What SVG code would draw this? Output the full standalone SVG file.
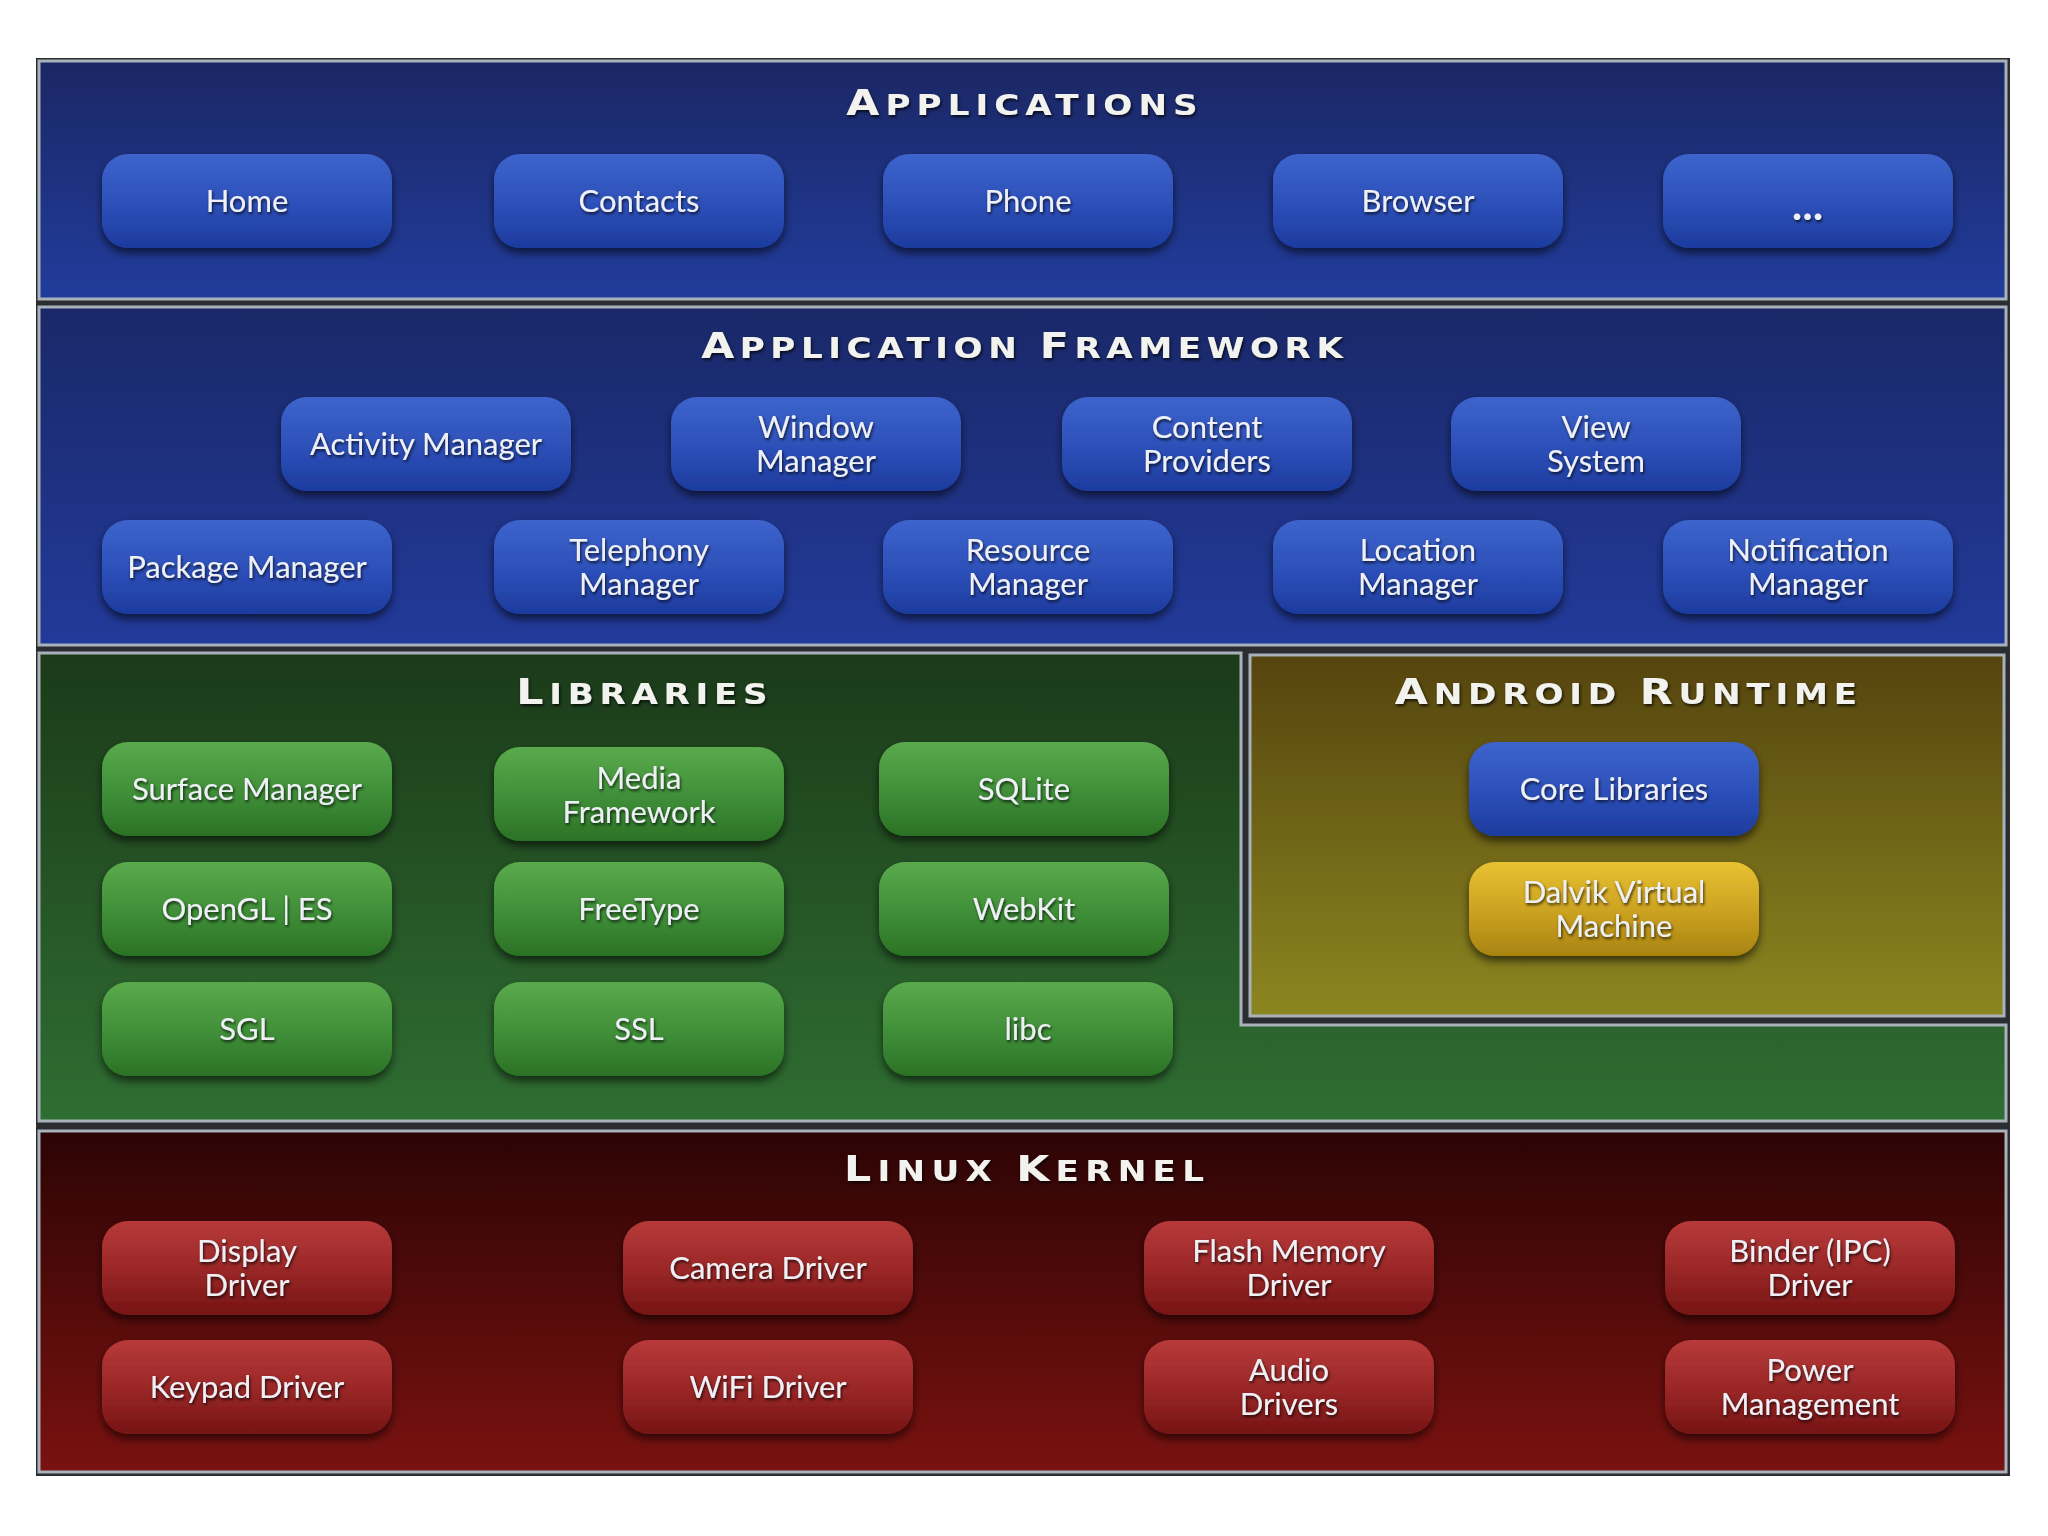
<svg xmlns="http://www.w3.org/2000/svg" width="2048" height="1536" viewBox="0 0 2048 1536">
<defs>
  <linearGradient id="gApps" x1="0" y1="0" x2="0" y2="1"><stop offset="0" stop-color="#1b2764"/><stop offset="1" stop-color="#213c9c"/></linearGradient>
  <linearGradient id="gFw" x1="0" y1="0" x2="0" y2="1"><stop offset="0" stop-color="#1a2868"/><stop offset="1" stop-color="#223a9a"/></linearGradient>
  <linearGradient id="gLib" x1="0" y1="0" x2="0" y2="1"><stop offset="0" stop-color="#1b3a19"/><stop offset="1" stop-color="#2f6e32"/></linearGradient>
  <linearGradient id="gRt" x1="0" y1="0" x2="0" y2="1"><stop offset="0" stop-color="#55440e"/><stop offset="1" stop-color="#8c8620"/></linearGradient>
  <linearGradient id="gKer" x1="0" y1="0" x2="0" y2="1"><stop offset="0" stop-color="#2c0404"/><stop offset="1" stop-color="#7a1210"/></linearGradient>
  <linearGradient id="bBlue" x1="0" y1="0" x2="0" y2="1"><stop offset="0" stop-color="#3d64cc"/><stop offset="0.55" stop-color="#2c4fb8"/><stop offset="1" stop-color="#1d3b9e"/></linearGradient>
  <linearGradient id="bGreen" x1="0" y1="0" x2="0" y2="1"><stop offset="0" stop-color="#5aaa4c"/><stop offset="0.55" stop-color="#3f8e38"/><stop offset="1" stop-color="#2b7226"/></linearGradient>
  <linearGradient id="bYellow" x1="0" y1="0" x2="0" y2="1"><stop offset="0" stop-color="#e8c232"/><stop offset="0.55" stop-color="#caa020"/><stop offset="1" stop-color="#a88410"/></linearGradient>
  <linearGradient id="bRed" x1="0" y1="0" x2="0" y2="1"><stop offset="0" stop-color="#b83a3a"/><stop offset="0.55" stop-color="#982626"/><stop offset="1" stop-color="#761414"/></linearGradient>
  <filter id="sh" x="-10%" y="-20%" width="120%" height="150%"><feDropShadow dx="0" dy="5" stdDeviation="4" flood-color="#000" flood-opacity="0.6"/></filter>
  <filter id="tsh" x="-10%" y="-30%" width="120%" height="160%"><feDropShadow dx="1" dy="2" stdDeviation="1.5" flood-color="#000" flood-opacity="0.75"/></filter>
  <style>
    .panel{stroke:#a9b1ba;stroke-width:3}
    .btn{filter:url(#sh)}
    .blue{fill:url(#bBlue)}
    .green{fill:url(#bGreen)}
    .yellow{fill:url(#bYellow)}
    .red{fill:url(#bRed)}
    .lbl{font-family:Lato,"Open Sans","DejaVu Sans",sans-serif;font-size:31px;fill:#eef0f6;text-anchor:middle;filter:url(#tsh)}
    .ttl{font-family:"DejaVu Sans","Liberation Sans",sans-serif;font-weight:bold;fill:#f2f2ee;text-anchor:middle;filter:url(#tsh)}
    .big{font-size:35px}
    .sm{font-size:28px}
  </style>
</defs>
<rect width="2048" height="1536" fill="#ffffff"/>
<rect x="36" y="58" width="1974" height="1418" fill="#2b2d30"/>

<g id="layer-applications">
  <rect class="panel" x="39" y="61" width="1967" height="238" fill="url(#gApps)"/>
  <text class="ttl" transform="translate(1022,115) scale(1.22,1)" x="0" y="0" textLength="288" lengthAdjust="spacing"><tspan class="big">A</tspan><tspan class="sm">PPLICATIONS</tspan></text>
</g>
<g id="layer-framework">
  <rect class="panel" x="39" y="307" width="1967" height="338" fill="url(#gFw)"/>
  <text class="ttl" transform="translate(1022,358) scale(1.22,1)" x="0" y="0" textLength="526" lengthAdjust="spacing"><tspan class="big">A</tspan><tspan class="sm">PPLICATION </tspan><tspan class="big">F</tspan><tspan class="sm">RAMEWORK</tspan></text>
</g>
<g id="layer-libraries">
  <path class="panel" d="M39,653 H1241 V1025 H2006 V1121 H39 Z" fill="url(#gLib)"/>
  <text class="ttl" transform="translate(642,704) scale(1.22,1)" x="0" y="0" textLength="206" lengthAdjust="spacing"><tspan class="big">L</tspan><tspan class="sm">IBRARIES</tspan></text>
</g>
<g id="layer-runtime">
  <rect class="panel" x="1250" y="655" width="754" height="361" fill="url(#gRt)"/>
  <text class="ttl" transform="translate(1626,704) scale(1.22,1)" x="0" y="0" textLength="379" lengthAdjust="spacing"><tspan class="big">A</tspan><tspan class="sm">NDROID </tspan><tspan class="big">R</tspan><tspan class="sm">UNTIME</tspan></text>
</g>
<g id="layer-kernel">
  <rect class="panel" x="39" y="1131" width="1967" height="341" fill="url(#gKer)"/>
  <text class="ttl" transform="translate(1024,1181) scale(1.22,1)" x="0" y="0" textLength="295" lengthAdjust="spacing"><tspan class="big">L</tspan><tspan class="sm">INUX </tspan><tspan class="big">K</tspan><tspan class="sm">ERNEL</tspan></text>
</g>

<!-- Applications -->
<g id="home"><rect class="btn blue" x="102" y="154" width="290" height="94" rx="26"/><text class="lbl" x="247" y="212">Home</text></g>
<g id="contacts"><rect class="btn blue" x="494" y="154" width="290" height="94" rx="26"/><text class="lbl" x="639" y="212">Contacts</text></g>
<g id="phone"><rect class="btn blue" x="883" y="154" width="290" height="94" rx="26"/><text class="lbl" x="1028" y="212">Phone</text></g>
<g id="browser"><rect class="btn blue" x="1273" y="154" width="290" height="94" rx="26"/><text class="lbl" x="1418" y="212">Browser</text></g>
<g id="more"><rect class="btn blue" x="1663" y="154" width="290" height="94" rx="26"/><text class="lbl" x="1808" y="220" style="font-weight:900;font-size:40px;letter-spacing:1px">...</text></g>

<!-- Framework -->
<g id="activity-manager"><rect class="btn blue" x="281" y="397" width="290" height="94" rx="26"/><text class="lbl" x="426" y="455">Activity Manager</text></g>
<g id="window-manager"><rect class="btn blue" x="671" y="397" width="290" height="94" rx="26"/><text class="lbl" x="816" y="438">Window</text><text class="lbl" x="816" y="472">Manager</text></g>
<g id="content-providers"><rect class="btn blue" x="1062" y="397" width="290" height="94" rx="26"/><text class="lbl" x="1207" y="438">Content</text><text class="lbl" x="1207" y="472">Providers</text></g>
<g id="view-system"><rect class="btn blue" x="1451" y="397" width="290" height="94" rx="26"/><text class="lbl" x="1596" y="438">View</text><text class="lbl" x="1596" y="472">System</text></g>
<g id="package-manager"><rect class="btn blue" x="102" y="520" width="290" height="94" rx="26"/><text class="lbl" x="247" y="578">Package Manager</text></g>
<g id="telephony-manager"><rect class="btn blue" x="494" y="520" width="290" height="94" rx="26"/><text class="lbl" x="639" y="561">Telephony</text><text class="lbl" x="639" y="595">Manager</text></g>
<g id="resource-manager"><rect class="btn blue" x="883" y="520" width="290" height="94" rx="26"/><text class="lbl" x="1028" y="561">Resource</text><text class="lbl" x="1028" y="595">Manager</text></g>
<g id="location-manager"><rect class="btn blue" x="1273" y="520" width="290" height="94" rx="26"/><text class="lbl" x="1418" y="561">Location</text><text class="lbl" x="1418" y="595">Manager</text></g>
<g id="notification-manager"><rect class="btn blue" x="1663" y="520" width="290" height="94" rx="26"/><text class="lbl" x="1808" y="561">Notification</text><text class="lbl" x="1808" y="595">Manager</text></g>

<!-- Libraries -->
<g id="surface-manager"><rect class="btn green" x="102" y="742" width="290" height="94" rx="26"/><text class="lbl" x="247" y="800">Surface Manager</text></g>
<g id="media-framework"><rect class="btn green" x="494" y="747" width="290" height="94" rx="26"/><text class="lbl" x="639" y="789">Media</text><text class="lbl" x="639" y="823">Framework</text></g>
<g id="sqlite"><rect class="btn green" x="879" y="742" width="290" height="94" rx="26"/><text class="lbl" x="1024" y="800">SQLite</text></g>
<g id="opengl-es"><rect class="btn green" x="102" y="862" width="290" height="94" rx="26"/><text class="lbl" x="247" y="920">OpenGL | ES</text></g>
<g id="freetype"><rect class="btn green" x="494" y="862" width="290" height="94" rx="26"/><text class="lbl" x="639" y="920">FreeType</text></g>
<g id="webkit"><rect class="btn green" x="879" y="862" width="290" height="94" rx="26"/><text class="lbl" x="1024" y="920">WebKit</text></g>
<g id="sgl"><rect class="btn green" x="102" y="982" width="290" height="94" rx="26"/><text class="lbl" x="247" y="1040">SGL</text></g>
<g id="ssl"><rect class="btn green" x="494" y="982" width="290" height="94" rx="26"/><text class="lbl" x="639" y="1040">SSL</text></g>
<g id="libc"><rect class="btn green" x="883" y="982" width="290" height="94" rx="26"/><text class="lbl" x="1028" y="1040">libc</text></g>

<!-- Android Runtime -->
<g id="core-libraries"><rect class="btn blue" x="1469" y="742" width="290" height="94" rx="26"/><text class="lbl" x="1614" y="800">Core Libraries</text></g>
<g id="dalvik-vm"><rect class="btn yellow" x="1469" y="862" width="290" height="94" rx="26"/><text class="lbl" x="1614" y="903">Dalvik Virtual</text><text class="lbl" x="1614" y="937">Machine</text></g>

<!-- Linux Kernel -->
<g id="display-driver"><rect class="btn red" x="102" y="1221" width="290" height="94" rx="26"/><text class="lbl" x="247" y="1262">Display</text><text class="lbl" x="247" y="1296">Driver</text></g>
<g id="camera-driver"><rect class="btn red" x="623" y="1221" width="290" height="94" rx="26"/><text class="lbl" x="768" y="1279">Camera Driver</text></g>
<g id="flash-memory-driver"><rect class="btn red" x="1144" y="1221" width="290" height="94" rx="26"/><text class="lbl" x="1289" y="1262">Flash Memory</text><text class="lbl" x="1289" y="1296">Driver</text></g>
<g id="binder-driver"><rect class="btn red" x="1665" y="1221" width="290" height="94" rx="26"/><text class="lbl" x="1810" y="1262">Binder (IPC)</text><text class="lbl" x="1810" y="1296">Driver</text></g>
<g id="keypad-driver"><rect class="btn red" x="102" y="1340" width="290" height="94" rx="26"/><text class="lbl" x="247" y="1398">Keypad Driver</text></g>
<g id="wifi-driver"><rect class="btn red" x="623" y="1340" width="290" height="94" rx="26"/><text class="lbl" x="768" y="1398">WiFi Driver</text></g>
<g id="audio-drivers"><rect class="btn red" x="1144" y="1340" width="290" height="94" rx="26"/><text class="lbl" x="1289" y="1381">Audio</text><text class="lbl" x="1289" y="1415">Drivers</text></g>
<g id="power-management"><rect class="btn red" x="1665" y="1340" width="290" height="94" rx="26"/><text class="lbl" x="1810" y="1381">Power</text><text class="lbl" x="1810" y="1415">Management</text></g>

<g id="connectors"></g>
</svg>
